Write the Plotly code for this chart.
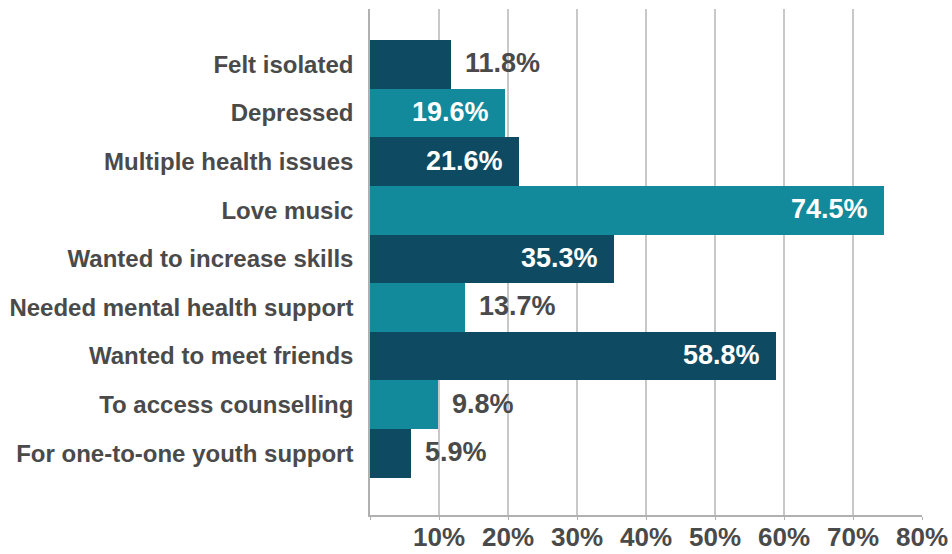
import plotly.graph_objects as go

# Survey reasons, top to bottom
categories = [
    "Felt isolated",
    "Depressed",
    "Multiple health issues",
    "Love music",
    "Wanted to increase skills",
    "Needed mental health support",
    "Wanted to meet friends",
    "To access counselling",
    "For one-to-one youth support",
]
percentages = [11.8, 19.6, 21.6, 74.5, 35.3, 13.7, 58.8, 9.8, 5.9]
tick_values = [0, 10, 20, 30, 40, 50, 60, 70, 80]
tick_labels = ["", "10%", "20%", "30%", "40%", "50%", "60%", "70%", "80%"]

DARK = "#0e4a62"
TEAL = "#138a9c"
TEXT = "#4a4a4a"
FONT = "Liberation Sans, Arial, Helvetica, sans-serif"

bar_colors = [DARK if i % 2 == 0 else TEAL for i in range(len(categories))]

fig = go.Figure(
    go.Bar(
        x=percentages,
        y=categories,
        orientation="h",
        marker=dict(color=bar_colors, line=dict(width=0)),
        width=1.0,
        hoverinfo="skip",
    )
)

# value labels: inside (white) for long bars, outside (grey) for short ones
annotations = []
for cat, val in zip(categories, percentages):
    inside = val >= 15
    annotations.append(
        dict(
            x=val,
            y=cat,
            xref="x",
            yref="y",
            text=f"{val:.1f}%",
            showarrow=False,
            xanchor="right" if inside else "left",
            xshift=-14 if inside else 12,
            yshift=1,
            yanchor="middle",
            font=dict(family=FONT, size=27, weight="bold",
                      color="#ffffff" if inside else TEXT),
        )
    )

fig.update_layout(
    width=952,
    height=554,
    margin=dict(l=370, r=30, t=9, b=39),
    paper_bgcolor="#ffffff",
    plot_bgcolor="#ffffff",
    showlegend=False,
    bargap=0,
    annotations=annotations,
    xaxis=dict(
        range=[0, 80],
        tickmode="array",
        tickvals=tick_values,
        ticktext=tick_labels,
        showgrid=True,
        gridcolor="#c8c8c8",
        gridwidth=1.5,
        zeroline=False,
        showline=True,
        linecolor="#b0b0b0",
        linewidth=1.5,
        ticks="outside",
        ticklen=3,
        tickcolor="#b0b0b0",
        ticklabelstandoff=-5,
        tickfont=dict(family=FONT, size=26, weight="bold", color=TEXT),
        automargin=False,
        fixedrange=True,
    ),
    yaxis=dict(
        type="category",
        categoryorder="array",
        categoryarray=categories,
        range=[9.27, -1.14],
        showgrid=False,
        zeroline=False,
        showline=True,
        linecolor="#b0b0b0",
        linewidth=1.5,
        ticks="",
        ticklabelstandoff=10,
        tickfont=dict(family=FONT, size=24, weight="bold", color=TEXT),
        automargin=False,
        fixedrange=True,
    ),
)

fig.write_html("out.html")
